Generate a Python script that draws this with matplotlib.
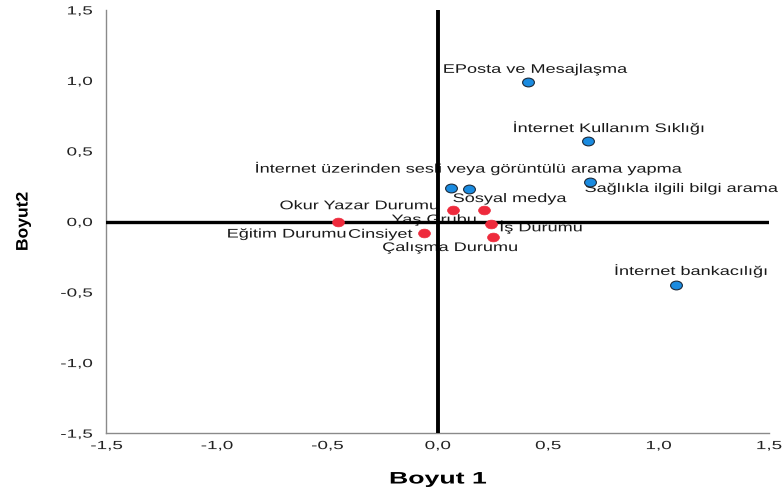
import matplotlib.pyplot as plt
from matplotlib.ticker import FuncFormatter, MultipleLocator
from matplotlib.patheffects import AbstractPathEffect
from matplotlib.transforms import Affine2D
from matplotlib.path import Path

plt.rcParams['font.family'] = ['Liberation Sans', 'DejaVu Sans']

# internet use categories (blue) and demographic variables (red)
blue_names = ['EPosta ve Mesajlaşma', 'İnternet Kullanım Sıklığı', 'Sağlıkla ilgili bilgi arama',
              'İnternet üzerinden sesli veya görüntülü arama yapma', 'Sosyal medya', 'İnternet bankacılığı']
blue_x = [0.41, 0.68, 0.69, 0.06, 0.14, 1.08]
blue_y = [0.99, 0.57, 0.28, 0.24, 0.23, -0.45]

red_names = ['Eğitim Durumu', 'Cinsiyet', 'Okur Yazar Durumu', 'Yaş Grubu', 'İş Durumu', 'Çalışma Durumu']
red_x = [-0.45, -0.06, 0.07, 0.21, 0.24, 0.25]
red_y = [0.00, -0.08, 0.08, 0.08, -0.02, -0.11]

# label offsets in pixels
blue_off = [(7, 12), (21, 13), (92, -7), (18, 19), (41, -10), (15, 14)]
red_off = [(-52, -13), (-44, -2), (-94, 4), (-50, -10), (50, -3), (-43, -11)]


class Widen(AbstractPathEffect):
    """stretch text along its baseline, around a fixed point of the ink"""
    def __init__(self, sx, anchor=0.5):
        super().__init__()
        self.sx = sx
        self.anchor = anchor

    def draw_path(self, renderer, gc, tpath, affine, rgbFace=None):
        v = tpath.vertices
        a = v[:, 0].min() + self.anchor * (v[:, 0].max() - v[:, 0].min()) if len(v) else 0
        t = Affine2D().translate(-a, 0).scale(self.sx, 1).translate(a, 0) + affine
        renderer.draw_path(gc, tpath, t, rgbFace)


dot = Path.unit_circle().transformed(Affine2D().scale(1.35, 1))

fig = plt.figure(figsize=(7.83, 4.95), dpi=100)
ax = fig.add_axes([0.136, 0.125, 0.846, 0.855])

ax.axhline(0, color='black', lw=2.4, zorder=3)
ax.axvline(0, color='black', lw=2.8, zorder=3)

ax.plot(blue_x, blue_y, ls='none', marker=dot, ms=8.5, mfc='#1a8be0', mec='#1c2a3a', mew=0.8, zorder=4)
ax.plot(red_x, red_y, ls='none', marker=dot, ms=8.5, mfc='#ee2a3c', mec='#ee2a3c', mew=0.5, zorder=4)

for name, x, y, off in zip(blue_names + red_names, blue_x + red_x, blue_y + red_y, blue_off + red_off):
    ax.annotate(name, (x, y), xytext=off, textcoords='offset pixels',
                ha='center', va='center', fontsize=9, color='#1a1a1a', zorder=2,
                path_effects=[Widen(1.45)])

ax.set_xlim(-1.5, 1.5)
ax.set_ylim(-1.5, 1.5)
ax.xaxis.set_major_locator(MultipleLocator(0.5))
ax.yaxis.set_major_locator(MultipleLocator(0.5))
fmt = FuncFormatter(lambda v, p: f'{v:.1f}'.replace('.', ','))
ax.xaxis.set_major_formatter(fmt)
ax.yaxis.set_major_formatter(fmt)
ax.tick_params(length=0, labelsize=8.5, colors='#222222')
ax.tick_params(axis='x', pad=5)
ax.tick_params(axis='y', pad=10)

for s in ['top', 'right']:
    ax.spines[s].set_visible(False)
for s in ['left', 'bottom']:
    ax.spines[s].set_color('#8a8a8a')
    ax.spines[s].set_linewidth(1.0)

ax.set_xlabel('Boyut 1', fontsize=12, fontweight='bold', labelpad=14,
              path_effects=[Widen(1.6)])
ax.set_ylabel('Boyut2', fontsize=12, fontweight='bold', labelpad=30,
              path_effects=[Widen(1.05)])

fig.canvas.draw()
for lbl in ax.get_xticklabels():
    lbl.set_path_effects([Widen(1.6)])
for lbl in ax.get_yticklabels():
    lbl.set_path_effects([Widen(1.6, anchor=1.0)])

fig.savefig('out.png', dpi=100)
